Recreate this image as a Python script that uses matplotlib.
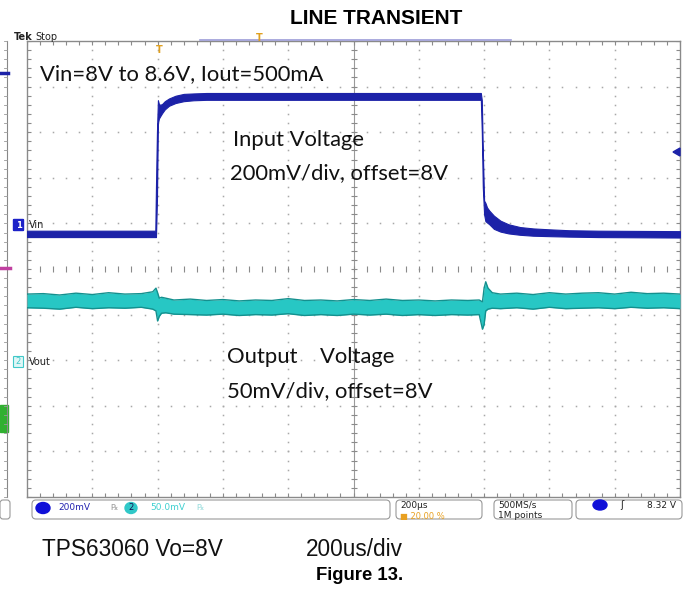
import matplotlib
matplotlib.use("Agg")
import matplotlib.pyplot as plt
from matplotlib.patches import FancyBboxPatch, Rectangle, Ellipse, Polygon
import numpy as np

# ---------------- data (time in us, vertical in screen divisions) ----------------
vin_t  = [-400, -7, -5, -2, 1, 4, 8, 14, 22, 35, 55, 80, 110, 150, 200, 260, 400, 700, 990,
          993, 996, 1000, 1004, 1009, 1016, 1030, 1050, 1075, 1110, 1150, 1200, 1260, 1350, 1600]
vin_hi = [0.84, 0.84, 1.8, 3.0, 3.70, 3.62, 3.60, 3.62, 3.68, 3.74, 3.80, 3.84, 3.85, 3.86, 3.86, 3.86, 3.86, 3.86, 3.86,
          3.7, 2.6, 1.5, 1.45, 1.35, 1.28, 1.17, 1.06, 0.98, 0.92, 0.89, 0.87, 0.85, 0.84, 0.83]
vin_lo = [0.70, 0.70, 0.70, 1.5, 3.2, 3.3, 3.35, 3.42, 3.5, 3.58, 3.64, 3.68, 3.70, 3.71, 3.71, 3.71, 3.71, 3.71, 3.71,
          3.0, 1.8, 1.2, 1.05, 1.02, 0.98, 0.88, 0.82, 0.78, 0.75, 0.73, 0.72, 0.71, 0.70, 0.69]

vout_t  = [-400, -350, -300, -250, -200, -150, -100, -50, -15, -5, 0, 5, 12, 25, 50, 100, 150, 200, 250, 300,
           350, 400, 450, 500, 550, 600, 650, 700, 750, 800, 850, 900, 950, 985, 995, 1000, 1005, 1012, 1025,
           1050, 1100, 1150, 1200, 1250, 1300, 1350, 1400, 1450, 1500, 1550, 1600]
vout_hi = [-0.55, -0.54, -0.57, -0.53, -0.56, -0.52, -0.55, -0.54, -0.50, -0.42, -0.52, -0.64, -0.62, -0.64, -0.68, -0.66,
           -0.69, -0.67, -0.70, -0.68, -0.69, -0.65, -0.69, -0.68, -0.70, -0.67, -0.69, -0.66, -0.69, -0.68, -0.70,
           -0.68, -0.69, -0.68, -0.72, -0.42, -0.28, -0.42, -0.52, -0.55, -0.53, -0.56, -0.52, -0.55, -0.53, -0.52,
           -0.55, -0.51, -0.54, -0.53, -0.55]
vout_lo = [-0.85, -0.86, -0.88, -0.84, -0.87, -0.85, -0.86, -0.84, -0.88, -0.92, -1.14, -1.04, -0.97, -0.96, -0.99, -1.00,
           -1.01, -0.99, -1.02, -1.00, -1.01, -0.98, -1.02, -1.00, -1.02, -0.99, -1.01, -0.99, -1.02, -1.00, -1.02,
           -1.00, -1.01, -1.00, -1.32, -1.22, -0.92, -0.88, -0.86, -0.87, -0.85, -0.88, -0.84, -0.87, -0.86, -0.85,
           -0.87, -0.84, -0.86, -0.85, -0.87]

t_min, t_max, t_div = -400, 1600, 200
n_ydiv = 5
title = "LINE TRANSIENT"
note_top = "Vin=8V to 8.6V, Iout=500mA"
note_in = ["Input Voltage", "200mV/div, offset=8V"]
note_out = ["Output    Voltage", "50mV/div, offset=8V"]
caption_left = "TPS63060 Vo=8V"
caption_right = "200us/div"
fig_label = "Figure 13."

# ---------------- figure ----------------
W, H = 684, 589
fig = plt.figure(figsize=(W / 100, H / 100), dpi=100)
fig.patch.set_facecolor("white")
ax = fig.add_axes([27 / W, 1 - 497 / H, 653 / W, 456 / H])
ax.set_xlim(t_min, t_max)
ax.set_ylim(-n_ydiv, n_ydiv)
ax.set_xticks([]); ax.set_yticks([])
for s in ax.spines.values():
    s.set_color("#8a8a8a"); s.set_linewidth(1.0)

gc = "#a8a8a8"
xmaj = np.arange(t_min, t_max + 1, t_div)
ymaj = np.arange(-n_ydiv, n_ydiv + 1, 1)
xmin_ = np.arange(t_min, t_max + 1, t_div / 5)
ymin_ = np.arange(-n_ydiv, n_ydiv + 0.01, 0.2)
tc = (t_min + t_max) / 2
for x in xmaj[1:-1]:
    if x == tc:
        continue
    ax.plot(np.full_like(ymin_, x), ymin_, ls="none", marker="s", ms=1.1, color=gc, mew=0)
for y in ymaj[1:-1]:
    if y == 0:
        continue
    ax.plot(xmin_, np.full_like(xmin_, y), ls="none", marker="s", ms=1.1, color=gc, mew=0)
# center cross
ax.axvline(tc, color="#9a9a9a", lw=0.8)
ax.plot(xmin_, np.zeros_like(xmin_), ls="none", marker="|", ms=4, color="#8a8a8a", mew=0.8)
ax.plot(np.full_like(ymin_, tc), ymin_, ls="none", marker="_", ms=4, color="#8a8a8a", mew=0.8)
# edge ticks
ax.plot(xmin_, np.full_like(xmin_, -n_ydiv + 0.05), ls="none", marker="|", ms=3, color="#8a8a8a", mew=0.8)
ax.plot(xmin_, np.full_like(xmin_, n_ydiv - 0.05), ls="none", marker="|", ms=3, color="#8a8a8a", mew=0.8)
ax.plot(np.full_like(ymin_, t_max - 6), ymin_, ls="none", marker="_", ms=3, color="#8a8a8a", mew=0.8)
ax.plot(np.full_like(ymin_, t_min + 6), ymin_, ls="none", marker="_", ms=3, color="#8a8a8a", mew=0.8)

# traces
ax.fill_between(vout_t, vout_lo, vout_hi, color="#27c7c4", lw=0, zorder=3)
ax.plot(vout_t, vout_hi, color="#14908e", lw=1.0, zorder=4)
ax.plot(vout_t, vout_lo, color="#14908e", lw=1.0, zorder=4)
ax.fill_between(vin_t, vin_lo, vin_hi, color="#1c22a8", lw=0.8, edgecolor="#1c22a8", zorder=3)

# texts inside plot
fnt = "Lato"
fs = 15.8
def note(xp, yp, s):
    ax.text((xp - 27) / 653, (497 - yp) / 456, s, transform=ax.transAxes, fontsize=fs, family=fnt,
            color="#111", va="center", zorder=6)
note(40, 74, note_top)
note(233, 140, note_in[0])
note(230, 173, note_in[1])
note(227, 357, note_out[0])
note(227, 391, note_out[1])

# ---------------- overlay in pixel coords ----------------
ov = fig.add_axes([0, 0, 1, 1], zorder=5)
ov.set_xlim(0, W); ov.set_ylim(H, 0); ov.axis("off"); ov.patch.set_alpha(0)

ov.text(376, 18, title, ha="center", va="center", fontsize=15, fontweight="bold", family="Liberation Sans")
ov.text(14, 37, "Tek", fontsize=7, fontweight="bold", va="center", family="DejaVu Sans", color="#222")
ov.text(35, 37, "Stop", fontsize=7, va="center", family="DejaVu Sans", color="#222")
# record bar
ov.plot([200, 511], [40, 40], color="#9c9cd8", lw=1.2)
ov.text(259, 38, "T", color="#e0a020", fontsize=7, fontweight="bold", ha="center", va="center")
ov.text(159, 50, "T", color="#e0a020", fontsize=7, fontweight="bold", ha="center", va="center")
# left ruler
ov.plot([7, 7], [41, 497], color="#888", lw=0.8)
for yy in np.arange(41, 498, 9.12):
    ov.plot([4, 7], [yy, yy], color="#999", lw=0.6)
ov.plot([0, 8], [73, 73], color="#1c22a8", lw=2.5)
ov.plot([0, 10], [268, 268], color="#c040a0", lw=2.5)
ov.add_patch(Rectangle((0, 405), 8, 27, color="#30b030"))
# channel markers
ov.add_patch(FancyBboxPatch((14, 220), 9, 10, boxstyle="round,pad=0.5", color="#1c22c8"))
ov.text(18.5, 225, "1", color="white", fontsize=6, ha="center", va="center", fontweight="bold")
ov.text(29, 225, "Vin", fontsize=7, va="center", color="#222")
ov.add_patch(FancyBboxPatch((14, 357), 9, 10, boxstyle="round,pad=0.5", fc="#dff6f6", ec="#40c8c8", lw=0.8))
ov.text(18.5, 362, "2", color="#40c8c8", fontsize=6, ha="center", va="center")
ov.text(29, 362, "Vout", fontsize=7, va="center", color="#222")
ov.add_patch(Polygon([[673, 152], [680, 148], [680, 156]], color="#1c22a8"))

# status bar
def box(x0, x1):
    ov.add_patch(FancyBboxPatch((x0, 500), x1 - x0, 19, boxstyle="round,pad=0,rounding_size=4",
                                fc="white", ec="#999", lw=0.8))
box(32, 390); box(396, 482); box(494, 572); box(576, 682)
ov.add_patch(FancyBboxPatch((0, 500), 10, 19, boxstyle="round,pad=0,rounding_size=3", fc="white", ec="#999", lw=0.8))
ov.add_patch(Ellipse((43, 508), 14, 11, color="#1010d8"))
ov.text(58, 508, "200mV", color="#2424b0", fontsize=6.5, va="center")
ov.text(110, 508, "\u211e", color="#999", fontsize=6, va="center")
ov.add_patch(Ellipse((131, 508), 12, 11, color="#30c8c8"))
ov.text(131, 508, "2", color="#115", fontsize=6, ha="center", va="center")
ov.text(150, 508, "50.0mV", color="#40d0d0", fontsize=6.5, va="center")
ov.text(196, 508, "\u211e", color="#9dd", fontsize=6, va="center")
ov.text(400, 505, "200\u00b5s", color="#222", fontsize=6.5, va="center")
ov.text(400, 516, "\u25a0 20.00 %", color="#e8a020", fontsize=6, va="center")
ov.text(498, 505, "500MS/s", color="#222", fontsize=6.5, va="center")
ov.text(498, 516, "1M points", color="#222", fontsize=6.5, va="center")
ov.add_patch(Ellipse((600, 505), 14, 10, color="#1010d8"))
ov.text(620, 505, "\u0283", color="#222", fontsize=7, va="center")
ov.text(676, 505, "8.32 V", color="#222", fontsize=6.5, va="center", ha="right")

# captions
ov.text(42, 550, caption_left, fontsize=16.3, family="Liberation Sans", va="center", color="#111")
ov.text(306, 550, caption_right, fontsize=16.3, family="Liberation Sans", va="center", color="#111")
ov.text(360, 575, fig_label, fontsize=13.3, fontweight="bold", family="Liberation Sans", va="center", ha="center")

fig.savefig("out.png", dpi=100)
